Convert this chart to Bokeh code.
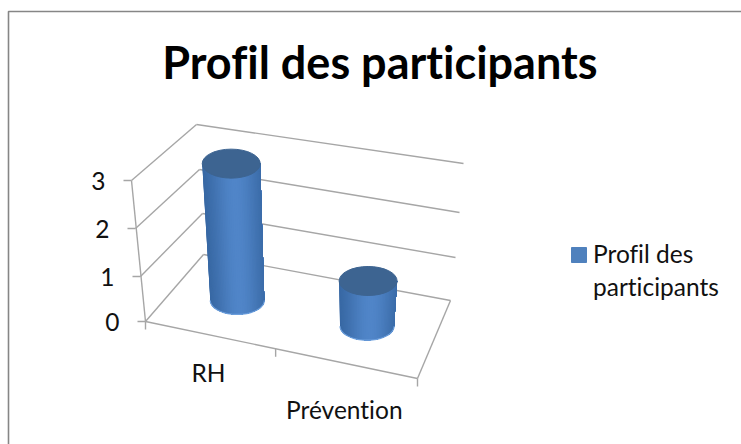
import numpy as np
from bokeh.plotting import figure
from bokeh.models import Range1d, InlineStyleSheet
from bokeh.embed import file_html
from bokeh.resources import INLINE
from bokeh.core.properties import value

# ---- data ----
title = "Profil des participants"
categories = ["RH", "Prévention"]
series_values = [3, 1]
value_ticks = [0, 1, 2, 3]
legend_lines = ["Profil des", "participants"]

# ---- 3D box of the chart, as screen corners per value level ----
LV = np.array(value_ticks, float)
FL = np.array([(145, 321), (140, 276), (135, 228), (131, 180)], float)
FR = np.array([(417, 378), (421, 329), (426, 281), (432, 233)], float)
BL = np.array([(203, 254), (202, 213), (199, 169), (196, 124)], float)
BR = np.array([(450, 300), (455, 257), (459, 212), (463, 163)], float)


def corner(c, v):
    return np.array([np.interp(v, LV, c[:, 0]), np.interp(v, LV, c[:, 1])])


def proj(u, w, v):
    front = corner(FL, v) * (1 - u) + corner(FR, v) * u
    back = corner(BL, v) * (1 - u) + corner(BR, v) * u
    return front * (1 - w) + back * w


def front_u(u):
    # perspective along the front edge of the floor
    return u / (u + (1 - u) * 1.09)


WIDTH, HEIGHT = 741, 444
OX, OY = 0, 0
p = figure(width=WIDTH, height=HEIGHT, output_backend="svg", toolbar_location=None,
           x_range=Range1d(OX, OX + WIDTH), y_range=Range1d(OY + HEIGHT, OY),
           min_border=0, outline_line_color=None, background_fill_color="white",
           border_fill_color="white")
p.axis.visible = False
p.grid.visible = False
p.stylesheets = [InlineStyleSheet(css=":host, svg, text { font-variant-ligatures: none !important; text-rendering: optimizeSpeed; }")]

GRID = "#A6A6A6"


def seg(a, b, color=GRID, width=1.4):
    p.line([a[0], b[0]], [a[1], b[1]], line_color=color, line_width=width)


# chart frame (only its top and left edges lie inside the picture)
p.line([8, 8, 741], [444, 11, 11], line_color="#868686", line_width=1.6)

# walls and floor
for v in value_ticks:
    seg(corner(FL, v), corner(BL, v))
    seg(corner(BL, v), corner(BR, v))
seg(corner(FL, 0), corner(FL, value_ticks[-1]))
seg(corner(FL, 0), corner(FR, 0))
seg(corner(FR, 0), corner(BR, 0))

# ticks
n = len(categories)
for v in value_ticks:
    a = corner(FL, v)
    seg(a, a + np.array([-8, 0]))
for i in range(n + 1):
    a = proj(front_u(i / n), 0, 0)
    seg(a, a + np.array([0, 8]))

# value labels
p.text(x=[corner(FL, v)[0] - 26 for v in value_ticks],
       y=[corner(FL, v)[1] for v in value_ticks],
       text=[str(v) for v in value_ticks], text_font=value("Lato"),
       text_font_size="24.5px", text_color="#111111",
       text_align="right", text_baseline="middle")

# category labels
label_dx = [-5, -5]
label_dy = [37, 45]
for i, c in enumerate(categories):
    a = proj((i + 0.5) / n, 0, 0)
    p.text(x=[a[0] + label_dx[i]], y=[a[1] + label_dy[i]], text=[c], text_font=value("Lato"),
           text_font_size="24.5px", text_color="#111111",
           text_align="center", text_baseline="middle")

# cylinders
SIDE_DARK = np.array([0x33, 0x62, 0x9C])
SIDE_LIGHT = np.array([0x50, 0x85, 0xC8])
TOP = "#3D6491"
RX_TOP, RX_BOT, RY = 29.0, 27.0, 14.0
N = 48


def shade(t):
    k = np.exp(-((t - 0.55) / 0.42) ** 2)
    c = SIDE_DARK + (SIDE_LIGHT - SIDE_DARK) * k
    return "#%02x%02x%02x" % tuple(int(round(x)) for x in c)


for i, val in enumerate(series_values):
    u = (i + 0.5) / n - 0.008
    w = 0.5
    b = proj(u, w, 0)
    t = proj(u, w, val) + np.array([-1.5, 0])
    xs, ys, cols = [], [], []
    th = np.linspace(-np.pi / 2, np.pi / 2, N + 1)
    for j in range(N):
        # each strip runs to the right edge; the next one paints over it, so no seams
        arc = np.linspace(th[j], np.pi / 2, 2 * (N - j) + 1)
        xt = t[0] + RX_TOP * np.sin(arc)
        xb = b[0] + RX_BOT * np.sin(arc)
        yb = b[1] + RY * np.cos(arc)
        xs.append(list(xt) + list(xb[::-1]))
        ys.append([t[1]] * len(arc) + list(yb[::-1]))
        cols.append(shade((np.sin((th[j] + th[j + 1]) / 2) + 1) / 2))
    p.patches(xs, ys, fill_color=cols, line_color=None)
    # lighter rim at bottom
    arc = np.linspace(-np.pi / 2, np.pi / 2, 40)
    p.line(b[0] + RX_BOT * np.sin(arc), b[1] + RY * np.cos(arc), line_color="#6C9FDD", line_width=1.2)
    p.ellipse(x=[t[0]], y=[t[1]], width=[2 * RX_TOP], height=[2 * RY + 1], fill_color=TOP, line_color=TOP)

# title
p.text(x=[379.5], y=[61.5], text=[title], text_font=value("Lato"), text_font_size="45px",
       text_font_style="bold", text_color="#000000", text_align="center", text_baseline="middle")

# legend
p.scatter(x=[578.5], y=[254.5], marker="square", size=15, fill_color="#4F81BD", line_color="#4F81BD")
p.text(x=[592.5, 592.5], y=[253, 286], text=legend_lines, text_font=value("Lato"),
       text_font_size="24.5px", text_color="#111111", text_align="left", text_baseline="middle")

open("out.html", "w").write(file_html(p, INLINE))
